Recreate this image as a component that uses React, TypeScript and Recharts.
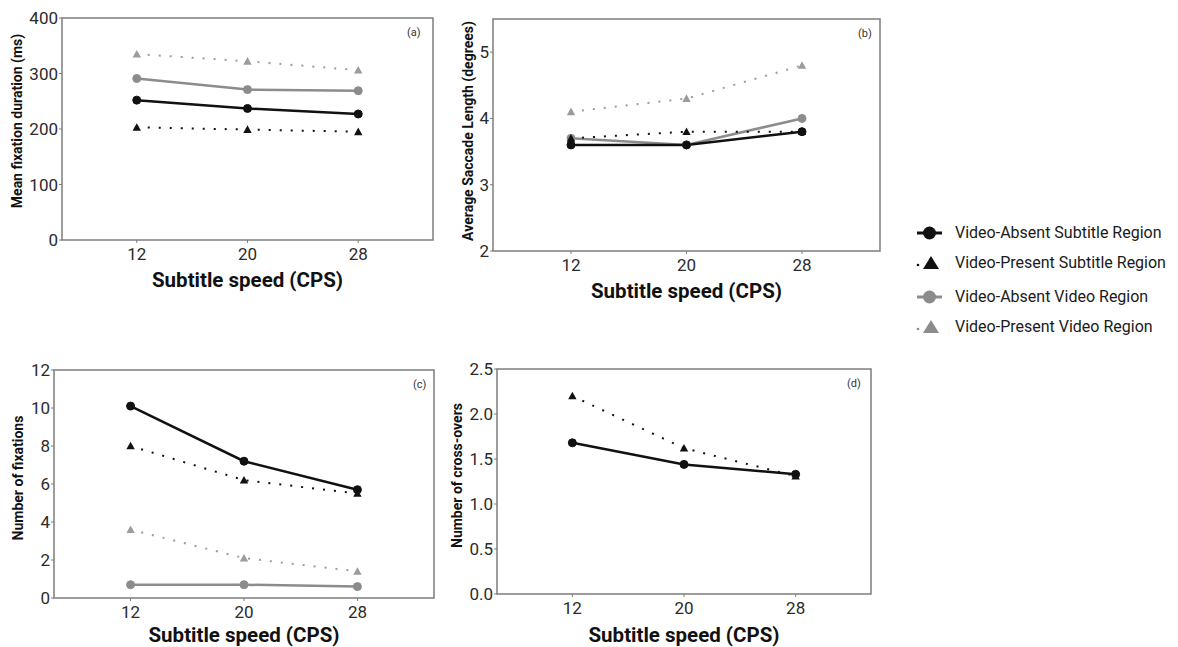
import { LineChart, Line, XAxis, YAxis, ReferenceArea, Label } from "recharts";

// subtitle speed in characters per second
const speeds = [12, 20, 28];

// (a) mean fixation duration (ms)
const fixDurVASub = [252, 237, 227];
const fixDurVPSub = [203, 199, 195];
const fixDurVAVid = [291, 271, 269];
const fixDurVPVid = [335, 322, 306];

// (b) average saccade length (degrees)
const sacVASub = [3.6, 3.6, 3.8];
const sacVPSub = [3.7, 3.8, 3.8];
const sacVAVid = [3.7, 3.6, 4.0];
const sacVPVid = [4.1, 4.3, 4.8];

// (c) number of fixations
const nFixVASub = [10.1, 7.2, 5.7];
const nFixVPSub = [8.0, 6.2, 5.5];
const nFixVAVid = [0.7, 0.7, 0.6];
const nFixVPVid = [3.6, 2.1, 1.4];

// (d) number of cross-overs
const crossVASub = [1.68, 1.44, 1.33];
const crossVPSub = [2.2, 1.62, 1.31];

const ticksA = [0, 100, 200, 300, 400];
const ticksB = [2, 3, 4, 5];
const ticksC = [0, 2, 4, 6, 8, 10, 12];
const ticksD = [0, 0.5, 1.0, 1.5, 2.0, 2.5];

const legendItems = [
  "Video-Absent Subtitle Region",
  "Video-Present Subtitle Region",
  "Video-Absent Video Region",
  "Video-Present Video Region",
];

const BLACK = "#111111";
const GREY = "#8c8c8c";
const GREY_LIGHT = "#9c9c9c";
const FRAME = "#7d7d7d";
const FONT = "Roboto, 'Noto Sans', sans-serif";
const X_DOMAIN: [number, number] = [6.6, 33.4];

function toRows(series: Record<string, number[]>) {
  return speeds.map((s, i) => {
    const row: Record<string, number> = { speed: s };
    Object.keys(series).forEach((k) => (row[k] = series[k][i]));
    return row;
  });
}

const Tri = (props: any) => {
  const { cx, cy, fill } = props;
  if (cx == null || cy == null) return <g key={props.key} />;
  const s = 4.2;
  return (
    <path
      key={props.key}
      d={`M${cx},${cy - s} L${cx + s},${cy + s * 0.8} L${cx - s},${cy + s * 0.8} Z`}
      fill={fill}
    />
  );
};

const yTitle = (value: string, x: number, dy: number) => (props: any) => {
  const vb = props.viewBox;
  const cx = vb.x + x;
  const cy = vb.y + vb.height / 2 + dy;
  return (
    <text
      x={cx}
      y={cy}
      transform={`rotate(-90 ${cx} ${cy})`}
      textAnchor="middle"
      dominantBaseline="central"
      fontFamily={FONT}
      fontWeight={700}
      fontSize={14}
      fill={BLACK}
    >
      {value}
    </text>
  );
};

type PanelProps = {
  left: number;
  top: number;
  width: number;
  height: number;
  margin: { top: number; right: number; bottom: number; left: number };
  yWidth: number;
  xHeight: number;
  titleOffset: number;
  yDomain: [number, number];
  yTicks: number[];
  yLabel: string;
  yLabelX: number;
  yLabelDy: number;
  tag: string;
  tagPos: { x: number; y: number };
  series: Record<string, number[]>;
  tickFmt?: (v: number) => string;
};

function Panel(p: PanelProps) {
  const rows = toRows(p.series);
  const keys = Object.keys(p.series);
  return (
    <div style={{ position: "absolute", left: p.left, top: p.top, width: p.width, height: p.height }}>
      <LineChart width={p.width} height={p.height} data={rows} margin={p.margin}>
        <XAxis
          dataKey="speed"
          type="number"
          domain={X_DOMAIN}
          ticks={speeds}
          height={p.xHeight}
          axisLine={false}
          tickLine={{ stroke: FRAME }}
          tickSize={3}
          tickMargin={5}
          tick={{ fill: "#2b2b2b", fontSize: 17, fontFamily: FONT }}
          allowDataOverflow
        >
          <Label
            value="Subtitle speed (CPS)"
            position="insideBottom"
            offset={p.titleOffset}
            style={{ fontFamily: FONT, fontWeight: 700, fontSize: 20.5, fill: BLACK }}
          />
        </XAxis>
        <YAxis
          type="number"
          domain={p.yDomain}
          ticks={p.yTicks}
          width={p.yWidth}
          axisLine={false}
          tickLine={{ stroke: FRAME }}
          tickSize={3}
          tickMargin={1}
          tickFormatter={p.tickFmt}
          tick={{ fill: "#2b2b2b", fontSize: 17, fontFamily: FONT }}
          allowDataOverflow
        >
          <Label content={yTitle(p.yLabel, p.yLabelX, p.yLabelDy)} />
        </YAxis>
        <ReferenceArea
          x1={X_DOMAIN[0]}
          x2={X_DOMAIN[1]}
          y1={p.yDomain[0]}
          y2={p.yDomain[1]}
          fill="none"
          stroke={FRAME}
          strokeWidth={1.5}
          ifOverflow="visible"
        />
        {keys.includes("vpVid") && (
          <Line
            dataKey="vpVid"
            stroke={GREY_LIGHT}
            strokeWidth={2}
            strokeDasharray="2 9"
            dot={(d: any) => <Tri {...d} fill={GREY_LIGHT} />}
            isAnimationActive={false}
          />
        )}
        {keys.includes("vaVid") && (
          <Line
            dataKey="vaVid"
            stroke={GREY}
            strokeWidth={2.5}
            dot={{ r: 4, fill: GREY, stroke: GREY, strokeWidth: 1 }}
            isAnimationActive={false}
          />
        )}
        <Line
          dataKey="vaSub"
          stroke={BLACK}
          strokeWidth={2.5}
          dot={{ r: 4, fill: BLACK, stroke: BLACK, strokeWidth: 1 }}
          isAnimationActive={false}
        />
        <Line
          dataKey="vpSub"
          stroke={BLACK}
          strokeWidth={2}
          strokeDasharray="2 9"
          dot={(d: any) => <Tri {...d} fill={BLACK} />}
          isAnimationActive={false}
        />
      </LineChart>
      <span
        style={{
          position: "absolute",
          left: p.tagPos.x,
          top: p.tagPos.y,
          fontFamily: FONT,
          fontSize: 11,
          color: "#333",
          lineHeight: "12px",
        }}
      >
        {p.tag}
      </span>
    </div>
  );
}

function LegendKey({ index }: { index: number }) {
  const isTri = index % 2 === 1;
  const color = index < 2 ? BLACK : GREY;
  return (
    <svg width={30} height={18} style={{ position: "absolute", left: 0, top: -9 }}>
      {isTri ? (
        <>
          <circle cx={3} cy={11} r={1.3} fill={color} />
          <path d="M16,2 L24,15 L8,15 Z" fill={color} />
        </>
      ) : (
        <>
          <line x1={2} x2={27} y1={9} y2={9} stroke={color} strokeWidth={3} />
          <circle cx={14.5} cy={9} r={6.5} fill={color} />
        </>
      )}
    </svg>
  );
}

export default function App() {
  const legendY = [233, 263, 297, 327];
  return (
    <div style={{ position: "absolute", left: 0, top: 0, width: 1178, height: 647, background: "#fff", overflow: "hidden" }}>
      <Panel
        left={0}
        top={0}
        width={440}
        height={300}
        margin={{ top: 18, right: 7, bottom: 10, left: 0 }}
        yWidth={62}
        xHeight={50}
        titleOffset={3}
        yDomain={[0, 400]}
        yTicks={ticksA}
        yLabel="Mean fixation duration (ms)"
        yLabelX={17}
        yLabelDy={-8}
        tag="(a)"
        tagPos={{ x: 407, y: 27 }}
        series={{ vaSub: fixDurVASub, vpSub: fixDurVPSub, vaVid: fixDurVAVid, vpVid: fixDurVPVid }}
      />
      <Panel
        left={440}
        top={0}
        width={450}
        height={310}
        margin={{ top: 19, right: 10, bottom: 9, left: 0 }}
        yWidth={53}
        xHeight={50}
        titleOffset={3}
        yDomain={[2, 5.5]}
        yTicks={ticksB}
        yLabel="Average Saccade Length (degrees)"
        yLabelX={28}
        yLabelDy={-4}
        tag="(b)"
        tagPos={{ x: 418, y: 28 }}
        series={{ vaSub: sacVASub, vpSub: sacVPSub, vaVid: sacVAVid, vpVid: sacVPVid }}
      />
      <Panel
        left={0}
        top={350}
        width={440}
        height={297}
        margin={{ top: 20, right: 6, bottom: 0, left: 0 }}
        yWidth={54}
        xHeight={49}
        titleOffset={5}
        yDomain={[0, 12]}
        yTicks={ticksC}
        yLabel="Number of fixations"
        yLabelX={18}
        yLabelDy={-6}
        tag="(c)"
        tagPos={{ x: 413, y: 29 }}
        series={{ vaSub: nFixVASub, vpSub: nFixVPSub, vaVid: nFixVAVid, vpVid: nFixVPVid }}
      />
      <Panel
        left={440}
        top={350}
        width={440}
        height={297}
        margin={{ top: 19, right: 9, bottom: 3, left: 0 }}
        yWidth={57}
        xHeight={50}
        titleOffset={2}
        yDomain={[0, 2.5]}
        yTicks={ticksD}
        yLabel="Number of cross-overs"
        yLabelX={17}
        yLabelDy={-6}
        tag="(d)"
        tagPos={{ x: 407, y: 28 }}
        tickFmt={(v: number) => v.toFixed(1)}
        series={{ vaSub: crossVASub, vpSub: crossVPSub }}
      />
      {legendItems.map((name, i) => (
        <div key={name} style={{ position: "absolute", left: 915, top: legendY[i], height: 0 }}>
          <LegendKey index={i} />
          <span
            style={{
              position: "absolute",
              left: 40,
              top: -10,
              whiteSpace: "nowrap",
              fontFamily: FONT,
              fontSize: 16,
              lineHeight: "20px",
              color: "#1a1a1a",
            }}
          >
            {name}
          </span>
        </div>
      ))}
    </div>
  );
}
